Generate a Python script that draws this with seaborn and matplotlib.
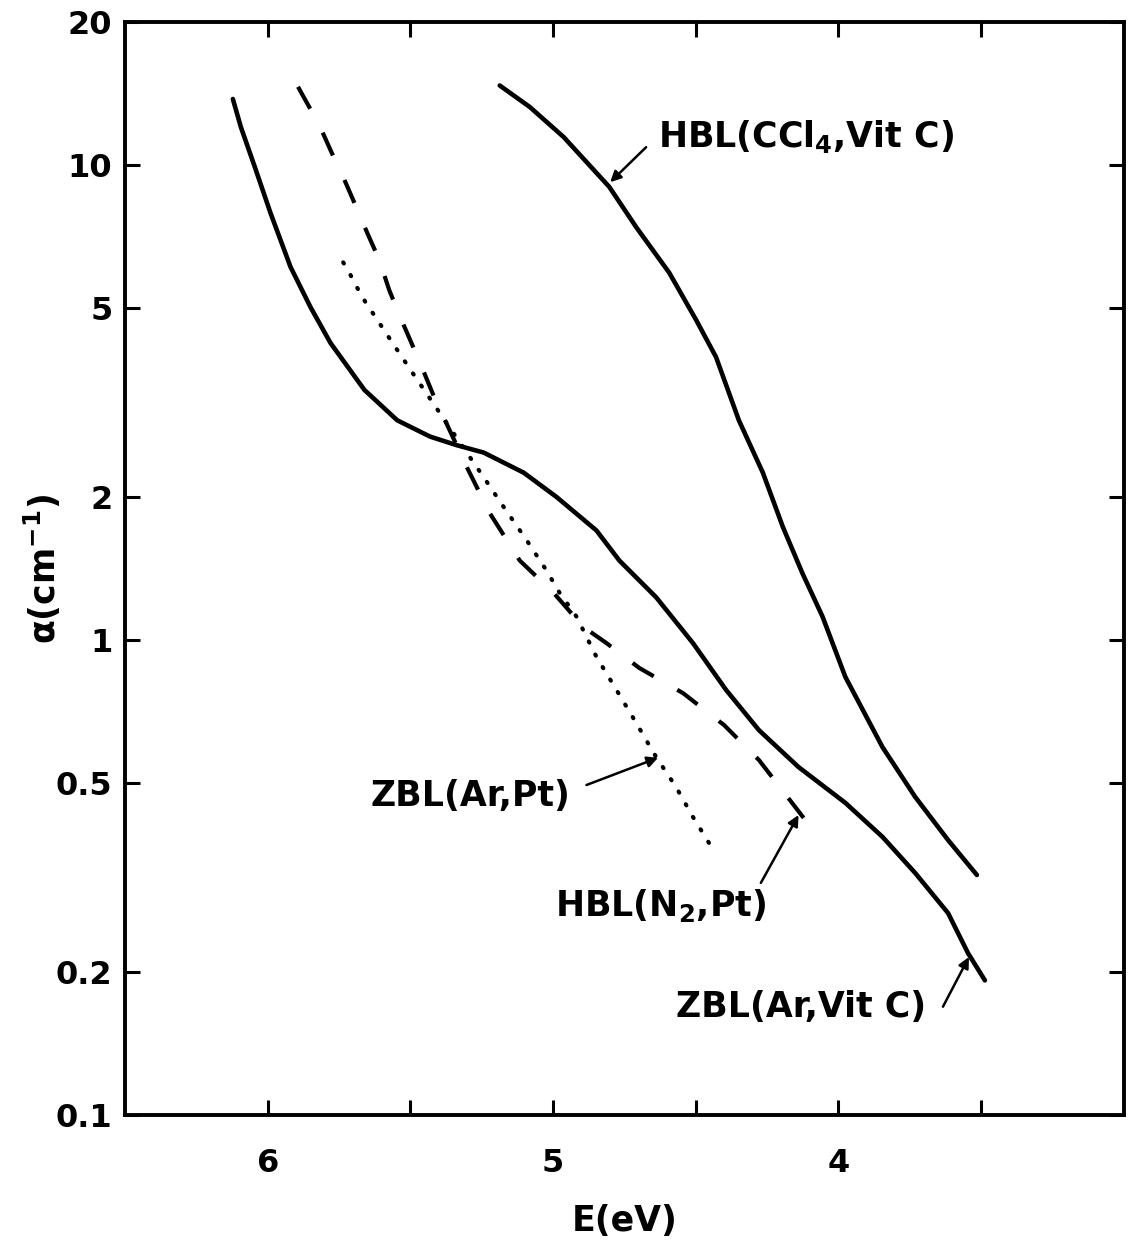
import pandas as pd
import matplotlib
matplotlib.use('Agg')
import matplotlib.pyplot as plt
import seaborn as sns

# values (E in eV, alpha in cm^-1)
zbl_vitc_E = [6.122, 6.094, 6.045, 5.990, 5.920, 5.850, 5.780, 5.661, 5.546, 5.431,
              5.337, 5.243, 5.103, 4.988, 4.848, 4.768, 4.639, 4.510, 4.394, 4.279,
              4.140, 3.976, 3.846, 3.731, 3.616, 3.546, 3.487]
zbl_vitc_a = [13.77, 12.02, 9.90, 7.92, 6.10, 5.02, 4.22, 3.36, 2.90, 2.68,
              2.57, 2.48, 2.25, 2.00, 1.70, 1.47, 1.23, 0.985, 0.785, 0.646,
              0.540, 0.454, 0.385, 0.323, 0.266, 0.219, 0.192]

hbl_ccl4_E = [5.187, 5.082, 4.963, 4.803, 4.709, 4.593, 4.499, 4.429, 4.349, 4.265,
              4.195, 4.126, 4.056, 3.976, 3.846, 3.731, 3.616, 3.515]
hbl_ccl4_a = [14.7, 13.25, 11.45, 8.99, 7.40, 5.93, 4.72, 3.94, 2.90, 2.25,
              1.73, 1.38, 1.12, 0.836, 0.595, 0.467, 0.379, 0.320]

hbl_n2_E = [5.920, 5.871, 5.818, 5.780, 5.731, 5.693, 5.651, 5.609, 5.574, 5.536,
            5.466, 5.417, 5.302, 5.222, 5.117, 4.998, 4.894, 4.813, 4.698, 4.545,
            4.401, 4.279, 4.122]
hbl_n2_a = [15.6, 13.8, 12.1, 10.75, 9.30, 8.24, 7.19, 6.31, 5.45, 4.79,
            3.83, 3.25, 2.31, 1.85, 1.47, 1.256, 1.065, 0.985, 0.873, 0.773,
            0.662, 0.559, 0.422]

zbl_pt_E = [5.749, 5.714, 5.686, 5.658, 5.623, 5.588, 5.522, 5.487, 5.326, 5.243,
            5.173, 5.092, 5.023, 4.977, 4.918, 4.848, 4.778, 4.709, 4.639, 4.569,
            4.510, 4.454]
zbl_pt_a = [6.44, 5.93, 5.51, 5.15, 4.79, 4.45, 3.88, 3.61, 2.60, 2.20,
            1.905, 1.62, 1.40, 1.256, 1.12, 0.921, 0.785, 0.669, 0.567, 0.490,
            0.424, 0.374]

y_ticks = [0.1, 0.2, 0.5, 1, 2, 5, 10, 20]
y_tick_labels = ['0.1', '0.2', '0.5', '1', '2', '5', '10', '20']
x_ticks = [6, 5.5, 5, 4.5, 4, 3.5]
x_tick_labels = ['6', '', '5', '', '4', '']

sns.set_theme(style='ticks')
plt.rcParams['font.family'] = ['DejaVu Sans']
plt.rcParams['font.weight'] = 'bold'
plt.rcParams['mathtext.fontset'] = 'dejavusans'
plt.rcParams['mathtext.default'] = 'bf'
plt.rcParams['text.color'] = 'black'
plt.rcParams['axes.labelcolor'] = 'black'

fig = plt.figure(figsize=(11.3, 12.42), dpi=100)
ax = fig.add_axes([0.1106, 0.1023, 0.884, 0.880])

# Draw the four curves
sns.lineplot(x='E', y='a', data=pd.DataFrame({'E': zbl_vitc_E, 'a': zbl_vitc_a}),
             ax=ax, color='black', lw=3.3, errorbar=None, solid_capstyle='round',
             solid_joinstyle='round')
sns.lineplot(x='E', y='a', data=pd.DataFrame({'E': hbl_ccl4_E, 'a': hbl_ccl4_a}),
             ax=ax, color='black', lw=3.3, errorbar=None, solid_capstyle='round',
             solid_joinstyle='round')
sns.lineplot(x='E', y='a', data=pd.DataFrame({'E': hbl_n2_E, 'a': hbl_n2_a}),
             ax=ax, color='black', lw=3.0, errorbar=None, linestyle=(0, (6, 6.5)))
sns.lineplot(x='E', y='a', data=pd.DataFrame({'E': zbl_pt_E, 'a': zbl_pt_a}),
             ax=ax, color='black', lw=3.0, errorbar=None, linestyle=(0, (0.3, 3.2)),
             dash_capstyle='round')

ax.set_yscale('log')
ax.set_xlim(6.5, 3.0)
ax.set_ylim(0.1, 20)
ax.set_yticks(y_ticks)
ax.set_yticklabels(y_tick_labels)
ax.minorticks_off()
ax.set_xticks(x_ticks)
ax.set_xticklabels(x_tick_labels)

ax.tick_params(direction='in', length=11, width=2.2, top=True, right=True,
               labelsize=23, colors='black')
ax.tick_params(axis='x', pad=24)
ax.tick_params(axis='y', pad=9)
for sp in ax.spines.values():
    sp.set_linewidth(2.8)
    sp.set_color('black')

ax.set_xlabel('E(eV)', fontsize=25, fontweight='bold', labelpad=18)
ax.set_ylabel(r'α(cm$^{-1}$)', fontsize=25, fontweight='bold')
ax.yaxis.set_label_coords(-0.062, 0.5)

# Curve labels with arrows
arrow = dict(arrowstyle='-|>', lw=1.8, color='black', mutation_scale=16,
             shrinkA=0, shrinkB=0)
ax.text(4.632, 10.9, r'HBL(CCl$_4$,Vit C)', fontsize=25, fontweight='bold',
        va='baseline', ha='left')
ax.annotate('', xy=(4.80, 9.2), xytext=(4.674, 10.9), arrowprops=arrow)

ax.text(5.640, 0.447, 'ZBL(Ar,Pt)', fontsize=25, fontweight='bold',
        va='baseline', ha='left')
ax.annotate('', xy=(4.632, 0.565), xytext=(4.883, 0.495), arrowprops=arrow)

ax.text(4.995, 0.262, r'HBL(N$_2$,Pt)', fontsize=25, fontweight='bold',
        va='baseline', ha='left')
ax.annotate('', xy=(4.140, 0.428), xytext=(4.272, 0.308), arrowprops=arrow)

ax.text(4.569, 0.161, 'ZBL(Ar,Vit C)', fontsize=25, fontweight='bold',
        va='baseline', ha='left')
ax.annotate('', xy=(3.543, 0.215), xytext=(3.634, 0.169), arrowprops=arrow)

fig.savefig('out.png', dpi=100, facecolor='white')
